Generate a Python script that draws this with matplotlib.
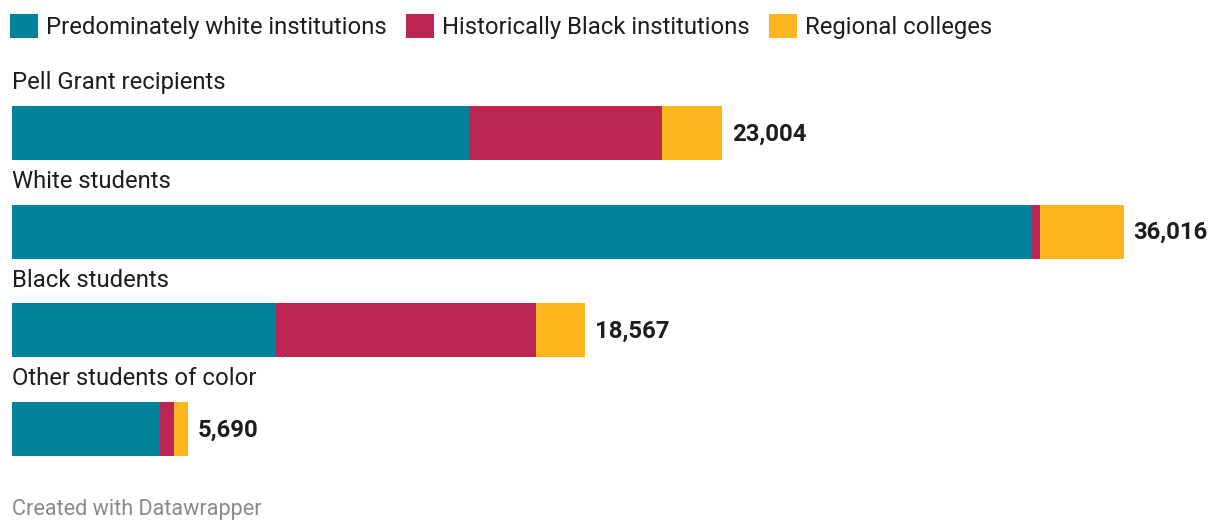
import numpy as np
import matplotlib.pyplot as plt
from matplotlib.patches import Patch

plt.rcParams['font.family'] = ['Roboto', 'DejaVu Sans']

groups = ['Pell Grant recipients', 'White students', 'Black students', 'Other students of color']
series = ['Predominately white institutions', 'Historically Black institutions', 'Regional colleges']
pwi = [14834, 33036, 8551, 4793]
hbcu = [6219, 260, 8421, 454]
regional = [1951, 2720, 1595, 443]
totals = ['23,004', '36,016', '18,567', '5,690']
colors = ['#00829b', '#bb2453', '#fdb61d']

W, H = 1220, 532
fig = plt.figure(figsize=(W / 100, H / 100), dpi=100)
# axes: x from 12px to 1124px, rows centered at 133..429px from top
row = 98.67
top = 133 - row / 2
bottom = 429 + row / 2
ax = fig.add_axes([12 / W, 1 - bottom / H, 1112 / W, (bottom - top) / H])

y = np.arange(len(groups))
h = 54 / row
left = np.zeros(len(groups))
for vals, col in zip([pwi, hbcu, regional], colors):
    ax.barh(y, vals, left=left, height=h, color=col, linewidth=0)
    left = left + np.array(vals)

fs = 17.2
for i in range(len(groups)):
    ax.annotate(totals[i], (left[i], y[i]), xytext=(7, 1), textcoords='offset points',
                va='center_baseline', ha='left', fontsize=fs, fontweight='bold', color='#1d1d1d',
                annotation_clip=False)
    ax.annotate(groups[i], (0, y[i] - h / 2), xytext=(0, 12), textcoords='offset points',
                va='baseline', ha='left', fontsize=fs, color='#1d1d1d', annotation_clip=False)

ax.set_xlim(0, 36016)
ax.set_ylim(len(groups) - 0.5, -0.5)
ax.axis('off')

handles = [Patch(facecolor=c, edgecolor='none') for c in colors]
fig.legend(handles, series, loc='upper left', bbox_to_anchor=(10 / W, 1 - 14 / H), ncol=3,
           frameon=False, fontsize=fs, handlelength=1.17, handleheight=1.17,
           handletextpad=0.33, columnspacing=0.82, borderaxespad=0, borderpad=0,
           labelcolor='#1d1d1d')

fig.text(12 / W, 1 - 509 / H, 'Created with Datawrapper', fontsize=15.6, color='#8a8a8a',
         va='center', ha='left')

fig.savefig('out.png', dpi=100)
